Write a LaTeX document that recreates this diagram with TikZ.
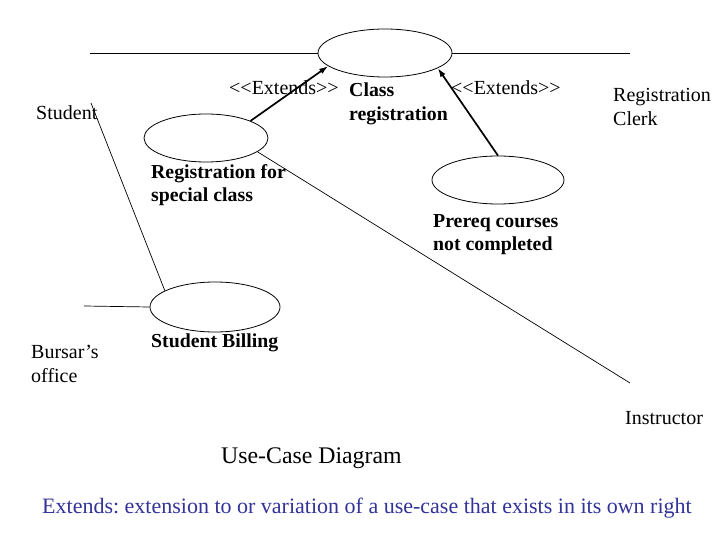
\documentclass[tikz,border=0pt]{standalone}
\usepackage{fontspec}
\setmainfont{Liberation Serif}
\usetikzlibrary{shapes.geometric,arrows.meta}
\definecolor{noteblue}{HTML}{333399}
\frenchspacing
\begin{document}
\begin{tikzpicture}[x=1pt,y=-1pt,
  usecase/.style={draw,ellipse,inner sep=0pt,line width=0.8pt},
  assoc/.style={draw,line width=0.7pt},
  extarrow/.style={draw,line width=1.7pt,-{Latex[length=9pt,width=6pt]}},
  lbl/.style={anchor=base west,inner sep=0pt,align=left,font=\fontsize{20}{24}\selectfont},
  blbl/.style={lbl,font=\fontsize{19.8}{24}\selectfont\bfseries}]
\useasboundingbox[fill=white] (0,0) rectangle (720,540);
% use cases
\node[usecase,minimum width=134pt,minimum height=48pt] (cr) at (385,53) {};
\node[usecase,minimum width=124pt,minimum height=48pt] (rs) at (206,138) {};
\node[usecase,minimum width=132pt,minimum height=48pt] (pr) at (498,180) {};
\node[usecase,minimum width=130pt,minimum height=50pt] (sb) at (215,307) {};
% actor line ends
\coordinate (stu) at (90,53);
\coordinate (stu2) at (91,103);
\coordinate (clerk) at (630,53);
\coordinate (bur) at (84,306);
\coordinate (ins) at (630,383);
% associations
\draw[assoc] (stu) -- (cr.west);
\draw[assoc] (cr.east) -- (clerk);
\draw[assoc] (stu2) -- (sb.162);
\draw[assoc] (bur) -- (sb.west);
\draw[assoc] (rs.-15) -- (ins);
% extends
\draw[extarrow] (rs.21) -- (cr.193);
\draw[extarrow] (pr.north) -- (cr.-16);
% labels (multi-line nodes: base = last line)
\node[lbl] (e1) at (229,95) {{<}{<}Extends{>}{>}};
\node[lbl] (e2) at (451,95) {{<}{<}Extends{>}{>}};
\node[blbl] (tcr) at (349,121) {Class\\registration};
\node[lbl] (tclerk) at (613,126) {Registration\\Clerk};
\node[lbl] (tstu) at (36,120) {Student};
\node[blbl] (trs) at (151,202) {Registration for\\special class};
\node[blbl] (tpr) at (433,251) {Prereq courses\\not completed};
\node[lbl] (tbur) at (31,382) {Bursar’s\\office};
\node[blbl] (tsb) at (151,347) {Student Billing};
\node[lbl] (tins) at (625,424) {Instructor};
\node[lbl,font=\fontsize{23.8}{28}\selectfont] (title) at (221,463) {Use-Case Diagram};
\node[lbl,font=\fontsize{22}{26}\selectfont,text=noteblue] (note) at (42,513) {Extends: extension to or variation of a use-case that exists in its own right};
\end{tikzpicture}
\end{document}
